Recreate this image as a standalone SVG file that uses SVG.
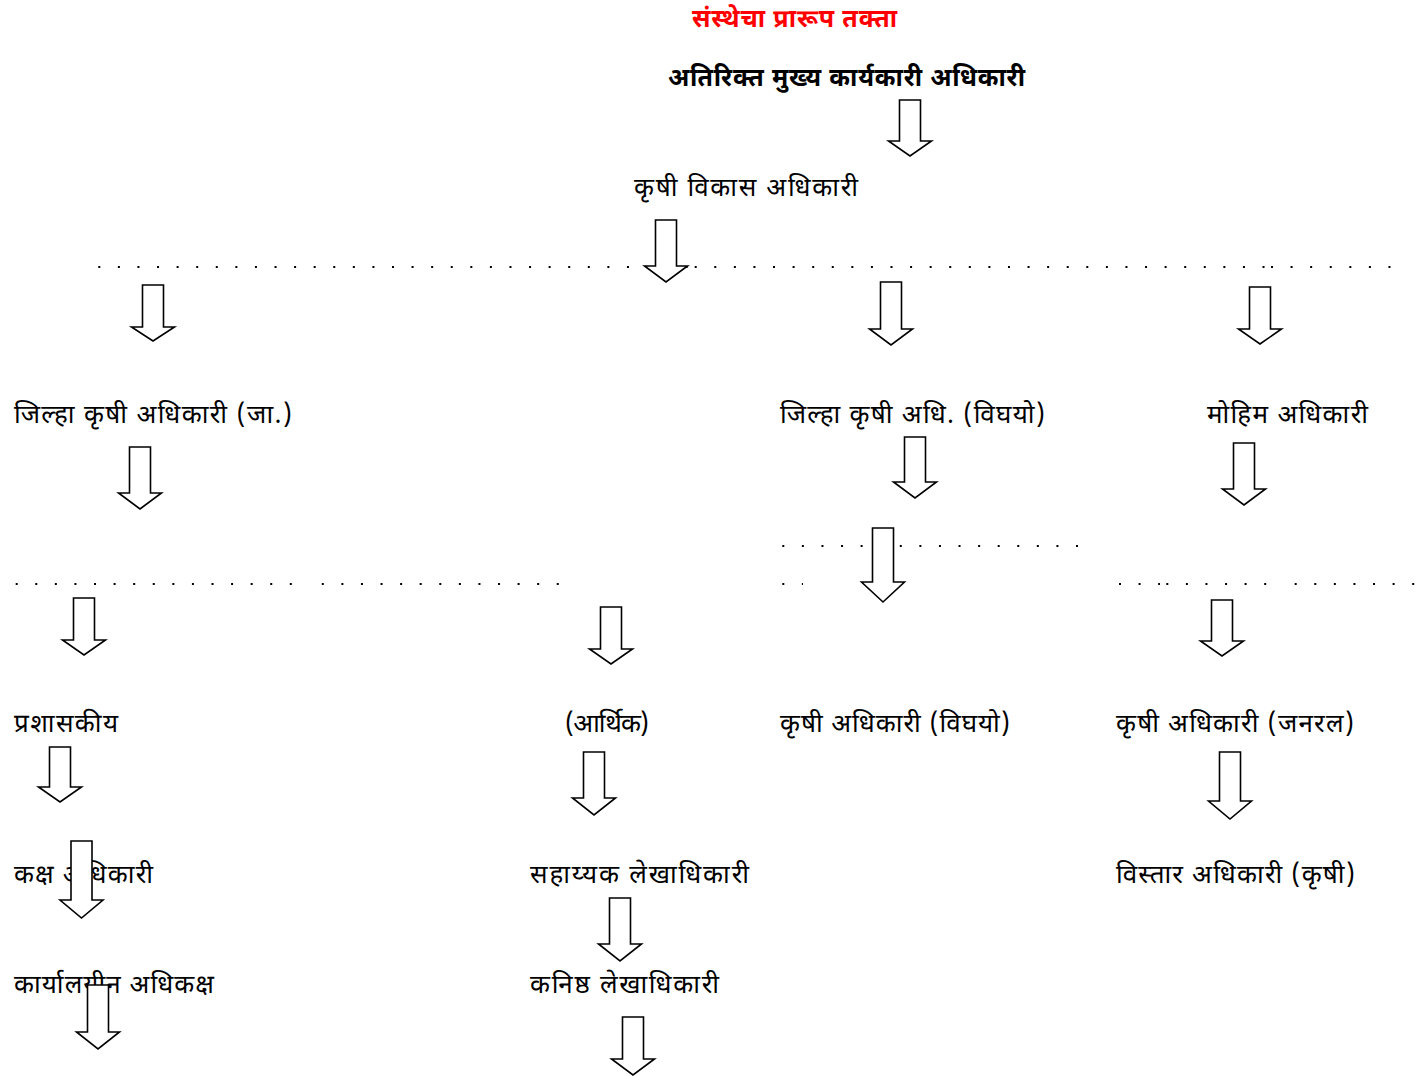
<svg xmlns="http://www.w3.org/2000/svg" width="1425" height="1076" viewBox="0 0 1425 1076">
<style>
text{font-family:"Noto Sans Devanagari","Lohit Devanagari",Mangal,"Noto Sans","DejaVu Sans",sans-serif;font-size:26px;fill:#000}
.title{fill:#ff0000;font-weight:bold;font-size:25px}
.bold{font-weight:bold;font-size:25px}
.dots{fill:none;stroke:#000;stroke-width:2.2;stroke-dasharray:2 17.58}
.arrow{fill:#fff;stroke:#000;stroke-width:1.6;stroke-linejoin:miter}
</style>
<rect width="1425" height="1076" fill="#fff"/>
<g id="title"><text class="title" x="692" y="27" textLength="205" lengthAdjust="spacing">संस्थेचा प्रारूप तक्ता</text></g>
<g id="n-aceo"><text class="bold" x="668" y="86" textLength="357" lengthAdjust="spacing">अतिरिक्त मुख्य कार्यकारी अधिकारी</text></g>
<g id="n-kva"><text x="634" y="196" textLength="224" lengthAdjust="spacing">कृषी विकास अधिकारी</text></g>
<g id="n-jkaja"><text x="14" y="423" textLength="278" lengthAdjust="spacing">जिल्हा कृषी अधिकारी (जा.)</text></g>
<g id="n-jkavi"><text x="780" y="423" textLength="265" lengthAdjust="spacing">जिल्हा कृषी अधि. (विघयो)</text></g>
<g id="n-moh"><text x="1207" y="423" textLength="161" lengthAdjust="spacing">मोहिम अधिकारी</text></g>
<g id="n-pra"><text x="14" y="732" textLength="104" lengthAdjust="spacing">प्रशासकीय</text></g>
<g id="n-arth"><text x="565" y="732" textLength="84" lengthAdjust="spacing">(आर्थिक)</text></g>
<g id="n-kavi"><text x="780" y="732" textLength="230" lengthAdjust="spacing">कृषी अधिकारी (विघयो)</text></g>
<g id="n-kajan"><text x="1116" y="732" textLength="238" lengthAdjust="spacing">कृषी अधिकारी (जनरल)</text></g>
<g id="n-kaksh"><text x="14" y="883" textLength="139" lengthAdjust="spacing">कक्ष अधिकारी</text></g>
<g id="n-sahl"><text x="530" y="883" textLength="219" lengthAdjust="spacing">सहाय्यक लेखाधिकारी</text></g>
<g id="n-vis"><text x="1116" y="883" textLength="239" lengthAdjust="spacing">विस्तार अधिकारी (कृषी)</text></g>
<g id="n-kary"><text x="14" y="993" textLength="200" lengthAdjust="spacing">कार्यालयीन अधिकक्ष</text></g>
<g id="n-knl"><text x="530" y="993" textLength="189" lengthAdjust="spacing">कनिष्ठ लेखाधिकारी</text></g>
<g id="dots">
<path class="dots" d="M98.3 267H690"/>
<path class="dots" d="M694.7 267H1265"/>
<path class="dots" d="M1271 267H1392"/>
<path class="dots" d="M15.7 584H293"/>
<path class="dots" d="M321.8 584H560"/>
<path class="dots" d="M782.3 546H1080"/>
<path class="dots" d="M782.3 584H803"/>
<path class="dots" d="M1119 584H1160"/>
<path class="dots" d="M1166.3 584H1267"/>
<path class="dots" d="M1294.7 584H1416"/>
</g>
<g id="connectors">
<path class="arrow" d="M899.5 100H920.5V141H931.5L910 156L888.5 141H899.5Z"/>
<path class="arrow" d="M655.5 220H676.5V266H687.5L666 282L644.5 266H655.5Z"/>
<path class="arrow" d="M142.5 285H163.5V327H174.5L153 341L131.5 327H142.5Z"/>
<path class="arrow" d="M880.5 282H901.5V329H912.5L891 345L869.5 329H880.5Z"/>
<path class="arrow" d="M1249.5 287H1270.5V329H1281.5L1260 344L1238.5 329H1249.5Z"/>
<path class="arrow" d="M129.5 447H150.5V493H161.5L140 509L118.5 493H129.5Z"/>
<path class="arrow" d="M904.5 437H925.5V482H936.5L915 498L893.5 482H904.5Z"/>
<path class="arrow" d="M1233.5 443H1254.5V489H1265.5L1244 505L1222.5 489H1233.5Z"/>
<path class="arrow" d="M872.5 528H893.5V582H904.5L883 602L861.5 582H872.5Z"/>
<path class="arrow" d="M73.5 598H94.5V640H105.5L84 655L62.5 640H73.5Z"/>
<path class="arrow" d="M600.5 607H621.5V649H632.5L611 664L589.5 649H600.5Z"/>
<path class="arrow" d="M1211.5 600H1232.5V641H1243.5L1222 656L1200.5 641H1211.5Z"/>
<path class="arrow" d="M49.5 747H70.5V787H81.5L60 802L38.5 787H49.5Z"/>
<path class="arrow" d="M583.5 752H604.5V798H615.5L594 815L572.5 798H583.5Z"/>
<path class="arrow" d="M1219.5 752H1240.5V801H1251.5L1230 819L1208.5 801H1219.5Z"/>
<path class="arrow" d="M71 841H92V900H103L81.5 918L60 900H71Z"/>
<path class="arrow" d="M609.5 898H630.5V944H641.5L620 961L598.5 944H609.5Z"/>
<path class="arrow" d="M87.5 985H108.5V1032H119.5L98 1049L76.5 1032H87.5Z"/>
<path class="arrow" d="M622.5 1017H643.5V1059H654.5L633 1075L611.5 1059H622.5Z"/>
</g>
</svg>
